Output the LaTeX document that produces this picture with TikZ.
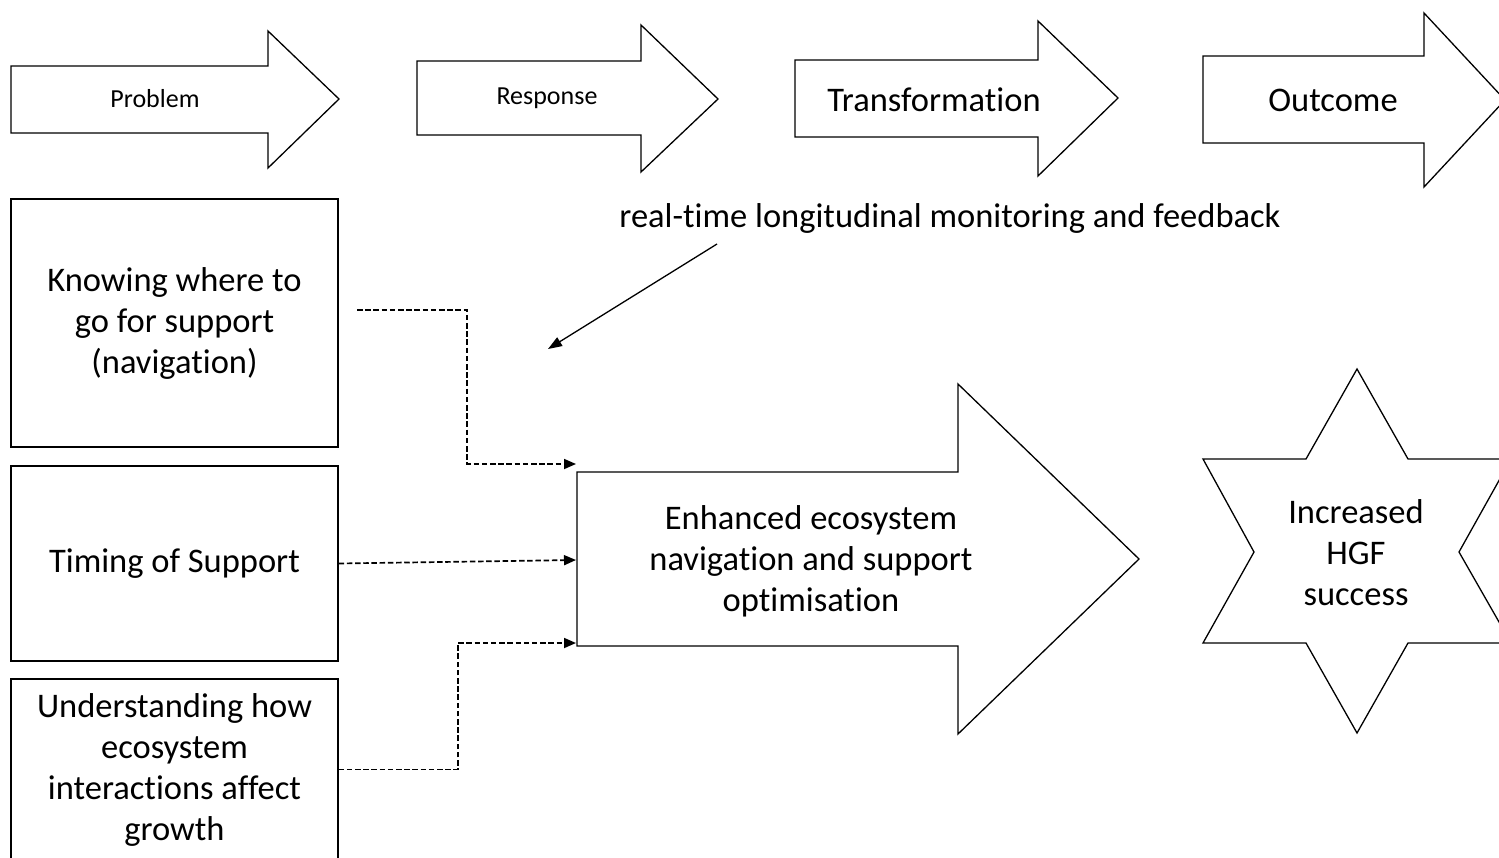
\documentclass[tikz,border=0pt]{standalone}
\usepackage{fontspec}
\setmainfont{Carlito}[Ligatures=NoCommon]
\usetikzlibrary{arrows.meta}
\tikzset{
  shapeline/.style={draw=black, line width=1.3pt, line join=miter, fill=white},
  bigtext/.style={font=\fontsize{34.5}{41}\selectfont, align=center, inner sep=0pt},
  smalltext/.style={font=\fontsize{26}{31}\selectfont, inner sep=0pt},
  boxnode/.style={draw=black, line width=1.3pt, inner sep=0pt, font=\fontsize{34.5}{41}\selectfont, align=center, minimum width=327pt},
  conn/.style={draw=black, line width=1.7pt, dash pattern=on 5.5pt off 2.7pt, -{Triangle[length=12pt,width=10pt]}},
  solidconn/.style={draw=black, line width=1.3pt, -{Triangle[length=14pt,width=10pt]}},
}
\begin{document}
\begin{tikzpicture}[x=1pt,y=-1pt]
\useasboundingbox (0,0) rectangle (1499,857);
\clip (0,0) rectangle (1499,857);
% top arrows
\draw[shapeline] (11,66) -- (268,66) -- (268,31) -- (339,99) -- (268,168) -- (268,133) -- (11,133) -- cycle;
\node[smalltext] (problem) at (155,99) {Problem};
\draw[shapeline] (417,61) -- (641,61) -- (641,25) -- (718,99) -- (641,172) -- (641,135) -- (417,135) -- cycle;
\node[smalltext] (response) at (547,98) {Response};
\draw[shapeline] (795,60) -- (1038,60) -- (1038,21) -- (1118,98) -- (1038,176) -- (1038,137) -- (795,137) -- cycle;
\node[bigtext] (transformation) at (934,100) {Transformation};
\draw[shapeline] (1203,56) -- (1424,56) -- (1424,13) -- (1505,100) -- (1424,187) -- (1424,143) -- (1203,143) -- cycle;
\node[bigtext] (outcome) at (1333,100) {Outcome};
% label
\node[bigtext] (label) at (950,218) {real-time longitudinal monitoring and feedback};
% left boxes
\node[boxnode, minimum height=248pt] (b1) at (174.5,323) {Knowing where to\\go for support\\(navigation)};
\node[boxnode, minimum height=195pt] (b2) at (174.5,563.5) {Timing of Support};
\node[boxnode, minimum height=181pt] (b3) at (174.5,769.5) {Understanding how\\ecosystem\\interactions affect\\growth};
% big arrow
\draw[shapeline] (577,472) -- (958,472) -- (958,384) -- (1139,559) -- (958,734) -- (958,646) -- (577,646) -- cycle;
\node[bigtext] (enhanced) at (811,561) {Enhanced ecosystem\\navigation and support\\optimisation};
% star
\draw[shapeline] (1357,369) -- (1408,459) -- (1511,459) -- (1459,552) -- (1511,643) -- (1408,643) -- (1357,733) -- (1306,643) -- (1203,643) -- (1254,552) -- (1203,459) -- (1306,459) -- cycle;
\node[bigtext] (success) at (1356,553) {Increased\\HGF\\success};
% connectors
\coordinate (s1) at (357,310);
\coordinate (t1) at (576,464);
\coordinate (t2) at (576,560);
\coordinate (t3) at (576,643);
\coordinate (m1) at (717,244);
\coordinate (m2) at (548,349);
\draw[conn] (s1) -- (467,310) |- (t1);
\draw[conn] (b2.east) -- (t2);
\draw[conn] (b3.east) -- ++(119,0) |- (t3);
\draw[solidconn] (m1) -- (m2);
\end{tikzpicture}
\end{document}
